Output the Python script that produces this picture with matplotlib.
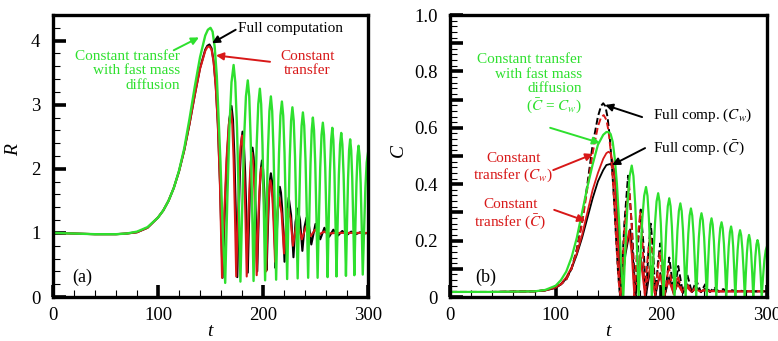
import matplotlib
matplotlib.use("Agg")
import matplotlib.pyplot as plt
from matplotlib.ticker import MultipleLocator, FixedLocator, FixedFormatter

plt.rcParams['font.family'] = ['Liberation Serif', 'DejaVu Serif']
plt.rcParams['mathtext.fontset'] = 'stix'

GREEN = '#2ee02e'
RED = '#d81818'
BLACK = '#000000'

# ---------------- panel (a): bubble radius R(t) ----------------
t_R_full = [0, 20, 40, 60, 70, 80, 90, 100, 105, 110, 115, 120, 125, 130, 135, 140, 145, 147, 149, 151, 153, 155,
            157, 159, 161.5,
            163.6, 165.75, 167.9, 170, 171.4, 172.75, 174.1, 175.5,
            176.75, 178, 179.25, 180.5, 181.75, 183, 184.25, 185.5,
            186.6, 187.75, 188.9, 190, 191.1, 192.25, 193.4, 194.5,
            195.6, 196.75, 197.9, 199, 200.1, 201.25, 202.4, 203.5,
            204.5, 205.5, 206.5, 207.5, 208.6, 209.75, 210.9, 212,
            213, 214, 215, 216, 217.1, 218.25, 219.4, 220.5,
            222.5, 224.5, 226.75, 229, 231, 233, 235.25, 237.5, 239.5, 241.5, 243.75, 246,
            250, 254.5, 258.5, 263, 267, 271.5, 275.5, 280, 284, 288.5, 292.5, 296.5, 300]
R_full = [1.0, 0.99, 0.98, 0.98, 0.99, 1.01, 1.08, 1.24, 1.35, 1.5, 1.7, 1.96, 2.29, 2.7, 3.15, 3.57, 3.86, 3.92,
          3.94, 3.88, 3.68, 3.3, 2.7, 1.8, 0.30,
          1.32, 2.20, 2.77, 2.98, 2.77, 2.21, 1.32, 0.31,
          1.17, 1.92, 2.40, 2.58, 2.40, 1.94, 1.22, 0.38,
          1.12, 1.76, 2.17, 2.33, 2.18, 1.77, 1.13, 0.40,
          1.06, 1.63, 1.99, 2.13, 1.99, 1.63, 1.07, 0.42,
          0.99, 1.49, 1.81, 1.93, 1.81, 1.50, 1.01, 0.45,
          0.93, 1.35, 1.62, 1.72, 1.63, 1.38, 1.00, 0.55,
          1.26, 1.55, 1.28, 0.62, 1.17, 1.38, 1.20, 0.72, 1.09, 1.24, 1.12, 0.82,
          1.14, 0.90, 1.08, 0.94, 1.05, 0.96, 1.03, 0.97, 1.02, 0.98, 1.01, 0.99, 1.0]

t_R_const = [0, 20, 40, 60, 70, 80, 90, 100, 105, 110, 115, 120, 125, 130, 135, 140, 145, 147, 149, 151, 153, 155,
             157, 159, 161,
             163.1, 165.25, 167.4, 169.5, 170.75, 172, 173.25, 174.5,
             175.9, 177.25, 178.6, 180, 181.1, 182.25, 183.4, 184.5,
             185.75, 187, 188.25, 189.5, 190.6, 191.75, 192.9, 194,
             195.1, 196.25, 197.4, 198.5, 199.6, 200.75, 201.9, 203,
             204, 205, 206, 207, 208.1, 209.25, 210.4, 211.5,
             213.5, 215.5, 217.75, 220, 222, 224, 226.25, 228.5,
             232.5, 237, 241, 245.5, 249.5, 254, 258, 262, 270, 300]
R_const = [1.0, 0.99, 0.98, 0.98, 0.99, 1.01, 1.08, 1.24, 1.35, 1.5, 1.7, 1.96, 2.29, 2.7, 3.15, 3.56, 3.84, 3.90,
           3.91, 3.86, 3.66, 3.28, 2.68, 1.75, 0.30,
           1.29, 2.15, 2.69, 2.90, 2.69, 2.15, 1.30, 0.32,
           1.16, 1.88, 2.34, 2.52, 2.34, 1.88, 1.16, 0.32,
           1.05, 1.69, 2.10, 2.25, 2.10, 1.70, 1.07, 0.34,
           0.98, 1.53, 1.89, 2.02, 1.89, 1.55, 1.02, 0.40,
           0.94, 1.41, 1.71, 1.82, 1.72, 1.45, 1.03, 0.55,
           1.26, 1.55, 1.30, 0.68, 1.18, 1.38, 1.22, 0.80,
           1.20, 0.90, 1.10, 0.95, 1.05, 0.98, 1.02, 0.99, 1.0, 1.0]

t_R_fast = [0, 20, 40, 60, 70, 80, 90, 100, 105, 110, 115, 120, 125, 130, 135, 140, 145, 147.5, 150, 152, 154,
            156, 158, 159.5, 161.5, 164,
            166, 168, 170, 172, 173.6, 175.25, 176.9, 178.5,
            180.25, 182, 183.75, 185.5, 186.9, 188.25, 189.6, 191,
            192.5, 194, 195.5, 197, 198.25, 199.5, 200.75, 202,
            203.4, 204.75, 206.1, 207.5, 208.75, 210, 211.25, 212.5,
            213.9, 215.25, 216.6, 218, 219.25, 220.5, 221.75, 223,
            224.25, 225.5, 226.75, 228, 229.25, 230.5, 231.75, 233,
            234.25, 235.5, 236.75, 238, 239.25, 240.5, 241.75, 243,
            244.1, 245.25, 246.4, 247.5, 248.6, 249.75, 250.9, 252,
            253.25, 254.5, 255.75, 257, 258.1, 259.25, 260.4, 261.5,
            262.6, 263.75, 264.9, 266, 267, 268, 269, 270,
            271.1, 272.25, 273.4, 274.5, 275.6, 276.75, 277.9, 279,
            280, 281, 282, 283, 284, 285, 286, 287,
            288, 289, 290, 291, 292, 293, 294, 295,
            296.25, 297.5, 298.75, 300]
R_fast = [1.0, 0.99, 0.98, 0.98, 0.99, 1.02, 1.09, 1.24, 1.35, 1.5, 1.7, 1.97, 2.32, 2.78, 3.28, 3.74, 4.08, 4.17,
          4.2, 4.14, 3.9, 3.45, 2.7, 2.1, 1.1, 0.22,
          1.51, 2.63, 3.35, 3.62, 3.35, 2.64, 1.52, 0.24,
          1.43, 2.47, 3.13, 3.38, 3.13, 2.47, 1.44, 0.25,
          1.39, 2.38, 3.01, 3.25, 3.01, 2.38, 1.40, 0.26,
          1.35, 2.30, 2.90, 3.13, 2.90, 2.30, 1.36, 0.27,
          1.33, 2.24, 2.83, 3.05, 2.83, 2.25, 1.33, 0.28,
          1.30, 2.18, 2.75, 2.96, 2.75, 2.19, 1.30, 0.29,
          1.27, 2.13, 2.67, 2.88, 2.67, 2.13, 1.28, 0.30,
          1.25, 2.08, 2.60, 2.80, 2.60, 2.08, 1.25, 0.30,
          1.22, 2.02, 2.53, 2.72, 2.53, 2.02, 1.23, 0.31,
          1.20, 1.96, 2.45, 2.64, 2.45, 1.97, 1.20, 0.32,
          1.17, 1.91, 2.38, 2.56, 2.38, 1.91, 1.18, 0.33,
          1.14, 1.84, 2.29, 2.46, 2.29, 1.85, 1.15, 0.34,
          1.11, 1.77, 2.20, 2.36, 2.20, 1.78, 1.11, 0.35,
          1.05, 1.70, 2.10, 2.25]

# ---------------- panel (b): concentration C(t) ----------------
t_C_fast = [0, 40, 80, 90, 100, 105, 110, 115, 120, 125, 130, 135, 140, 145, 148, 150, 152, 154, 156, 158, 160,
            162, 164,
            166, 168, 170, 172, 173.6, 175.25, 176.9, 178.5,
            180.25, 182, 183.75, 185.5, 186.9, 188.25, 189.6, 191,
            192.5, 194, 195.5, 197, 198.25, 199.5, 200.75, 202,
            203.4, 204.75, 206.1, 207.5, 208.75, 210, 211.25, 212.5,
            213.9, 215.25, 216.6, 218, 219.25, 220.5, 221.75, 223,
            224.25, 225.5, 226.75, 228, 229.25, 230.5, 231.75, 233,
            234.25, 235.5, 236.75, 238, 239.25, 240.5, 241.75, 243,
            244.1, 245.25, 246.4, 247.5, 248.6, 249.75, 250.9, 252,
            253.25, 254.5, 255.75, 257, 258.1, 259.25, 260.4, 261.5,
            262.6, 263.75, 264.9, 266, 267, 268, 269, 270,
            271.1, 272.25, 273.4, 274.5, 275.6, 276.75, 277.9, 279,
            280, 281, 282, 283, 284, 285, 286, 287,
            288, 289, 290, 291, 292, 293, 294, 295,
            296.25, 297.5, 298.75, 300]
C_fast = [0.018, 0.018, 0.02, 0.025, 0.04, 0.06, 0.09, 0.14, 0.21, 0.30, 0.39, 0.47, 0.54, 0.575, 0.585, 0.585,
          0.578, 0.55, 0.49, 0.40, 0.27, 0.12, 0.0,
          0.177, 0.331, 0.429, 0.466, 0.429, 0.331, 0.177, 0.0,
          0.148, 0.277, 0.359, 0.390, 0.359, 0.277, 0.148, 0.0,
          0.140, 0.261, 0.339, 0.368, 0.339, 0.261, 0.140, 0.0,
          0.133, 0.249, 0.322, 0.350, 0.322, 0.249, 0.133, 0.0,
          0.126, 0.236, 0.305, 0.332, 0.305, 0.236, 0.126, 0.0,
          0.119, 0.223, 0.289, 0.314, 0.289, 0.223, 0.119, 0.0,
          0.113, 0.211, 0.273, 0.297, 0.273, 0.211, 0.113, 0.0,
          0.106, 0.198, 0.257, 0.279, 0.257, 0.198, 0.106, 0.0,
          0.101, 0.188, 0.244, 0.265, 0.244, 0.188, 0.101, 0.0,
          0.095, 0.178, 0.230, 0.250, 0.230, 0.178, 0.095, 0.0,
          0.090, 0.168, 0.218, 0.237, 0.218, 0.168, 0.090, 0.0,
          0.084, 0.156, 0.202, 0.220, 0.202, 0.156, 0.084, 0.0,
          0.077, 0.143, 0.186, 0.202, 0.186, 0.143, 0.077, 0.0,
          0.070, 0.130, 0.165, 0.180]

t_Cw_full = [0, 40, 80, 90, 100, 105, 110, 115, 120, 125, 130, 135, 140, 143, 145, 147, 149, 151, 153, 155, 157,
             159, 160.5, 161.5,
             165, 168.5, 172, 175.5, 178, 180.5, 183, 185.5, 187.75, 190, 192.25, 194.5, 196.75, 199, 201.25,
             203.5, 207.5, 212, 216, 220.5, 224.5, 229, 233, 237.5, 241.5, 246, 250, 254.5, 258.5, 263, 267,
             271.5, 275.5, 280, 300]
Cw_full = [0.018, 0.018, 0.02, 0.024, 0.035, 0.045, 0.062, 0.10, 0.17, 0.27, 0.40, 0.54, 0.64, 0.678, 0.687,
           0.677, 0.64, 0.575, 0.48, 0.36, 0.22, 0.09, 0.02, 0.0,
           0.26, 0.43, 0.26, 0.0, 0.19, 0.31, 0.19, 0.0, 0.16, 0.26, 0.16, 0.0, 0.12, 0.19, 0.12,
           0.005, 0.14, 0.01, 0.11, 0.012, 0.08, 0.015, 0.06, 0.017, 0.045, 0.018, 0.035, 0.019, 0.028, 0.02,
           0.024, 0.02, 0.022, 0.02, 0.02]

t_Cw_const = [0, 40, 80, 90, 100, 105, 110, 115, 120, 125, 130, 135, 140, 143, 145.5, 148, 150, 152, 154, 156,
              158, 160, 161.5,
              165.25, 169.5, 172, 174.5, 177.25, 180, 182.25, 184.5, 187, 189.5, 191.75, 194, 198.5, 203, 207,
              211.5, 215.5, 220, 224, 228.5, 232.5, 237, 241, 245.5, 249.5, 254, 300]
Cw_const = [0.018, 0.018, 0.02, 0.024, 0.035, 0.045, 0.062, 0.10, 0.165, 0.26, 0.385, 0.51, 0.605, 0.638, 0.645,
            0.628, 0.59, 0.52, 0.42, 0.30, 0.16, 0.04, 0.0,
            0.25, 0.40, 0.25, 0.0, 0.19, 0.30, 0.19, 0.0, 0.14, 0.22, 0.14, 0.0, 0.16, 0.005, 0.11,
            0.01, 0.075, 0.014, 0.05, 0.017, 0.035, 0.019, 0.027, 0.02, 0.022, 0.02, 0.02]

t_Cm_full = [0, 40, 80, 90, 100, 105, 110, 115, 120, 125, 130, 135, 140, 145, 148, 152, 155, 157.5, 160, 162,
             166, 170.5, 173, 175.5, 180.5, 185.5, 190, 194.5, 199, 203.5, 207.5, 212, 216, 220.5, 224.5, 229,
             233, 237.5, 241.5, 246, 250, 254.5, 300]
Cm_full = [0.018, 0.018, 0.02, 0.023, 0.032, 0.045, 0.065, 0.10, 0.15, 0.21, 0.28, 0.35, 0.41, 0.45, 0.468, 0.472,
           0.455, 0.38, 0.20, 0.02,
           0.15, 0.24, 0.15, 0.0, 0.14, 0.005, 0.11, 0.008, 0.085, 0.01, 0.07, 0.012, 0.055, 0.015, 0.045, 0.017,
           0.035, 0.018, 0.03, 0.019, 0.025, 0.02, 0.02]

t_Cm_const = [0, 40, 80, 90, 100, 105, 110, 115, 120, 125, 130, 135, 140, 145, 148, 150, 152, 154, 156, 158.5,
              161,
              165.25, 169.5, 172, 174.5, 180, 184.5, 189.5, 194, 198.5, 203, 207, 211.5, 215.5, 220, 224, 228.5,
              232.5, 237, 241, 245.5, 300]
Cm_const = [0.018, 0.018, 0.02, 0.023, 0.033, 0.047, 0.07, 0.105, 0.155, 0.22, 0.30, 0.38, 0.44, 0.49, 0.51,
            0.515, 0.51, 0.48, 0.41, 0.24, 0.02,
            0.15, 0.235, 0.15, 0.0, 0.15, 0.005, 0.11, 0.008, 0.08, 0.01, 0.06, 0.013, 0.045, 0.016, 0.035, 0.018,
            0.028, 0.019, 0.023, 0.02, 0.02]

x_ticks = [0, 100, 200, 300]
R_ticks = [0, 1, 2, 3, 4]
C_ticks = [0, 0.1, 0.2, 0.3, 0.4, 0.5, 0.6, 0.7, 0.8, 0.9, 1.0]
C_labels = ['0', '', '0.2', '', '0.4', '', '0.6', '', '0.8', '', '1.0']

W, H = 778, 341
fig = plt.figure(figsize=(W / 100, H / 100), dpi=100)
axA = fig.add_axes([53 / W, (H - 297) / H, 315 / W, 282 / H])
axB = fig.add_axes([450 / W, (H - 297) / H, 317 / W, 282 / H])

DASH = (0, (3.5, 1.6))

axA.plot(t_R_full, R_full, color=BLACK, lw=1.5)
axA.plot(t_R_const, R_const, color=RED, lw=1.5)
axA.plot(t_R_fast, R_fast, color=GREEN, lw=1.7)

axB.plot(t_Cm_full, Cm_full, color=BLACK, lw=1.3)
axB.plot(t_Cm_const, Cm_const, color=RED, lw=1.3)
axB.plot(t_Cw_full, Cw_full, color=BLACK, lw=1.4, linestyle=DASH)
axB.plot(t_Cw_const, Cw_const, color=RED, lw=1.4, linestyle=DASH)
axB.plot(t_C_fast, C_fast, color=GREEN, lw=1.6)

for ax in (axA, axB):
    ax.set_xlim(0, 300)
    for s in ax.spines.values():
        s.set_linewidth(2.4)
    ax.xaxis.set_major_locator(FixedLocator(x_ticks))
    ax.xaxis.set_minor_locator(MultipleLocator(20))
    ax.tick_params(which='major', direction='in', length=9, width=2.6, labelsize=13.5,
                   top=False, right=False, pad=7)
    ax.tick_params(which='minor', direction='in', length=5, width=0.8, top=False, right=False)
    ax.tick_params(axis='y', which='major', pad=9)

axA.set_ylim(0, 4.4)
axA.yaxis.set_major_locator(FixedLocator(R_ticks))
axA.yaxis.set_minor_locator(MultipleLocator(0.2))

axB.set_ylim(0, 1.0)
axB.yaxis.set_major_locator(FixedLocator(C_ticks))
axB.yaxis.set_major_formatter(FixedFormatter(C_labels))
axB.yaxis.set_minor_locator(MultipleLocator(0.02))

# axis titles
fig.text(14 / W, 1 - 150 / H, 'R', style='italic', fontsize=14, rotation=90, ha='center', va='center')
fig.text(398 / W, 1 - 150 / H, 'C', style='italic', fontsize=14, rotation=90, ha='center', va='center')
fig.text(210 / W, 1 - 331 / H, 't', style='italic', fontsize=14, ha='center', va='center')
fig.text(608 / W, 1 - 331 / H, 't', style='italic', fontsize=14, ha='center', va='center')

FS = 11


def arrow(ax, start, tip, color):
    ax.annotate('', xy=tip, xytext=start,
                arrowprops=dict(arrowstyle='-|>', color=color, lw=1.4, mutation_scale=11,
                                shrinkA=0, shrinkB=0))


# panel (a) annotations
axA.text(176, 4.19, 'Full computation', color=BLACK, fontsize=FS, ha='left', va='center')
arrow(axA, (174, 4.17), (151.4, 3.96), BLACK)
axA.text(121, 3.86, 'Constant transfer\nwith fast mass\ndiffusion', color=GREEN, fontsize=FS,
         ha='right', va='top', multialignment='right', linespacing=1.15)
arrow(axA, (115, 3.85), (139, 4.05), GREEN)
axA.text(242, 3.86, 'Constant\ntransfer', color=RED, fontsize=FS, ha='center', va='top',
         multialignment='center', linespacing=1.15)
arrow(axA, (206.7, 3.67), (155.2, 3.77), RED)
axA.text(18, 0.31, '(a)', fontsize=13, ha='left', va='center')

# panel (b) annotations
axB.text(125, 0.865, 'Constant transfer\nwith fast mass\ndiffusion\n($\\bar{C}$ = $C_w$)', color=GREEN,
         fontsize=FS, ha='right', va='top', multialignment='right', linespacing=1.15)
arrow(axB, (94.8, 0.60), (142, 0.546), GREEN)
axB.text(60, 0.515, 'Constant\ntransfer ($C_w$)', color=RED, fontsize=FS, ha='center', va='top',
         multialignment='center', linespacing=1.15)
arrow(axB, (97.7, 0.45), (135.5, 0.507), RED)
axB.text(57, 0.35, 'Constant\ntransfer ($\\bar{C}$)', color=RED, fontsize=FS, ha='center', va='top',
         multialignment='center', linespacing=1.15)
arrow(axB, (98.6, 0.309), (128, 0.27), RED)
axB.text(192, 0.645, 'Full comp. ($C_w$)', color=BLACK, fontsize=FS, ha='left', va='center')
arrow(axB, (181.8, 0.638), (146.8, 0.681), BLACK)
axB.text(192, 0.528, 'Full comp. ($\\bar{C}$)', color=BLACK, fontsize=FS, ha='left', va='center')
arrow(axB, (184.6, 0.528), (153.4, 0.468), BLACK)
axB.text(24, 0.071, '(b)', fontsize=13, ha='left', va='center')

fig.savefig('out.png', dpi=100)
